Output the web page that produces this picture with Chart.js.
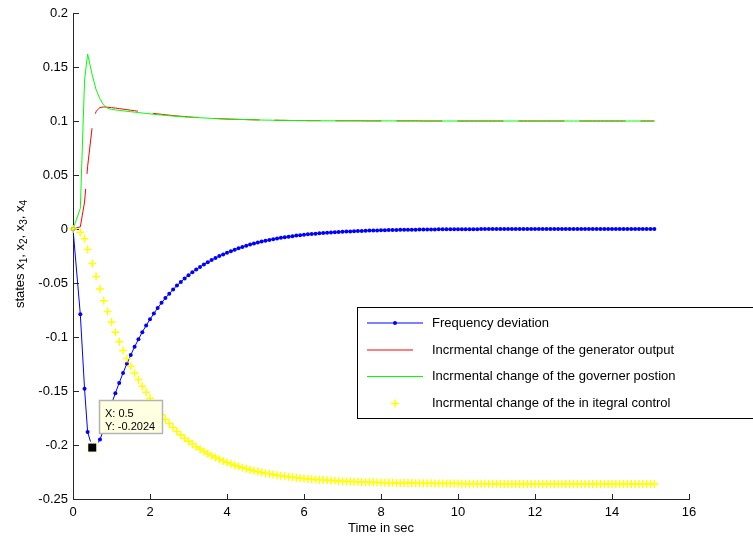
<!DOCTYPE html>
<html>
<head>
<meta charset="utf-8">
<script src="https://cdn.jsdelivr.net/npm/chart.js@4.4.0/dist/chart.umd.min.js"></script>
<style>
  html, body { margin: 0; padding: 0; background: #fff; }
  #wrap { width: 753px; height: 540px; }
</style>
</head>
<body>
<div id="wrap"><canvas id="statesChart" width="753" height="540"></canvas></div>
<script>
// simulation output, one sample per solver step
const timeSec = [
  0, 0.19, 0.3, 0.38, 0.5,
  0.6, 0.7, 0.8, 0.9, 1.0, 1.1, 1.2, 1.3, 1.4, 1.5,
  1.6, 1.7, 1.8, 1.9, 2.0, 2.1, 2.2, 2.3, 2.4, 2.5,
  2.6, 2.7, 2.8, 2.9, 3.0, 3.1, 3.2, 3.3, 3.4, 3.5,
  3.6, 3.7, 3.8, 3.9, 4.0, 4.1, 4.2, 4.3, 4.4, 4.5,
  4.6, 4.7, 4.8, 4.9, 5.0, 5.1, 5.2, 5.3, 5.4, 5.5,
  5.6, 5.7, 5.8, 5.9, 6.0, 6.1, 6.2, 6.3, 6.4, 6.5,
  6.6, 6.7, 6.8, 6.9, 7.0, 7.1, 7.2, 7.3, 7.4, 7.5,
  7.6, 7.7, 7.8, 7.9, 8.0, 8.1, 8.2, 8.3, 8.4, 8.5,
  8.6, 8.7, 8.8, 8.9, 9.0, 9.1, 9.2, 9.3, 9.4, 9.5,
  9.6, 9.7, 9.8, 9.9, 10.0, 10.1, 10.2, 10.3, 10.4, 10.5,
  10.6, 10.7, 10.8, 10.9, 11.0, 11.1, 11.2, 11.3, 11.4, 11.5,
  11.6, 11.7, 11.8, 11.9, 12.0, 12.1, 12.2, 12.3, 12.4, 12.5,
  12.6, 12.7, 12.8, 12.9, 13.0, 13.1, 13.2, 13.3, 13.4, 13.5,
  13.6, 13.7, 13.8, 13.9, 14.0, 14.1, 14.2, 14.3, 14.4, 14.5,
  14.6, 14.7, 14.8, 14.9, 15.0, 15.1
];

// x1: frequency deviation
const freqDeviation = [
  0, -0.079, -0.148, -0.188, -0.2024,
  -0.2005, -0.195, -0.1855, -0.174, -0.162, -0.152, -0.1425, -0.1333, -0.1247, -0.1167,
  -0.1091, -0.1021, -0.0955, -0.0893, -0.0836, -0.0782, -0.0731, -0.0684, -0.064, -0.0599,
  -0.056, -0.0524, -0.049, -0.0458, -0.0429, -0.0401, -0.0375, -0.0351, -0.0328, -0.0307,
  -0.0287, -0.0269, -0.0251, -0.0235, -0.022, -0.0205, -0.0191, -0.0178, -0.0166, -0.0155,
  -0.0144, -0.0134, -0.0125, -0.0116, -0.0108, -0.0101, -0.0094, -0.0088, -0.0082, -0.0076,
  -0.0071, -0.0066, -0.0061, -0.0057, -0.0053, -0.0049, -0.0046, -0.0043, -0.004, -0.0037,
  -0.0034, -0.0032, -0.003, -0.0028, -0.0026, -0.0024, -0.0022, -0.002, -0.0019, -0.0018,
  -0.0016, -0.0015, -0.0014, -0.0013, -0.0012, -0.0011, -0.001, -0.0009, -0.0009, -0.0008,
  -0.0007, -0.0007, -0.0006, -0.0006, -0.0005, -0.0005, -0.0004, -0.0004, -0.0004, -0.0003,
  -0.0003, -0.0003, -0.0003, -0.0002, -0.0002, -0.0002, -0.0002, -0.0002, -0.0002, -0.0002,
  -0.0001, -0.0001, -0.0001, -0.0001, -0.0001, -0.0001, -0.0001, -0.0001, -0.0001, -0.0001,
  -0.0001, -0.0001, -0.0001, -0.0001, -0.0001, 0, 0, 0, 0, 0,
  0, 0, 0, 0, 0, 0, 0, 0, 0, 0,
  0, 0, 0, 0, 0, 0, 0, 0, 0, 0,
  0, 0, 0, 0, 0, 0
];

// x2: generator output
const genOutput = [
  0, 0.002, 0.025, 0.058, 0.095,
  0.109, 0.1125, 0.113, 0.1128, 0.1124, 0.112, 0.1115, 0.111, 0.1105, 0.11,
  0.1095, 0.109, 0.1085, 0.108, 0.1075, 0.107, 0.1066, 0.1062, 0.1058, 0.1054,
  0.105, 0.1047, 0.1044, 0.1041, 0.1038, 0.1035, 0.1033, 0.1031, 0.1029, 0.1027,
  0.1025, 0.1023, 0.1021, 0.102, 0.1018, 0.1017, 0.1016, 0.1015, 0.1014, 0.1013,
  0.1012, 0.1011, 0.101, 0.1009, 0.1008, 0.1008, 0.1007, 0.1007, 0.1006, 0.1006,
  0.1005, 0.1005, 0.1004, 0.1004, 0.1004, 0.1003, 0.1003, 0.1003, 0.1003, 0.1002,
  0.1002, 0.1002, 0.1002, 0.1002, 0.1002, 0.1002, 0.1002, 0.1002, 0.1002, 0.1002,
  0.1001, 0.1001, 0.1001, 0.1001, 0.1001, 0.1001, 0.1001, 0.1001, 0.1001, 0.1001,
  0.1001, 0.1001, 0.1001, 0.1001, 0.1001, 0.1, 0.1, 0.1, 0.1, 0.1,
  0.1, 0.1, 0.1, 0.1, 0.1, 0.1, 0.1, 0.1, 0.1, 0.1,
  0.1, 0.1, 0.1, 0.1, 0.1, 0.1, 0.1, 0.1, 0.1, 0.1,
  0.1, 0.1, 0.1, 0.1, 0.1, 0.1, 0.1, 0.1, 0.1, 0.1,
  0.1, 0.1, 0.1, 0.1, 0.1, 0.1, 0.1, 0.1, 0.1, 0.1,
  0.1, 0.1, 0.1, 0.1, 0.1, 0.1, 0.1, 0.1, 0.1, 0.1,
  0.1, 0.1, 0.1, 0.1, 0.1, 0.1
];

// x3: governor position
const governorPos = [
  0, 0.019, 0.138, 0.162, 0.1425,
  0.129, 0.1205, 0.1145, 0.1118, 0.1108, 0.1103, 0.1098, 0.1094, 0.109, 0.1086,
  0.1082, 0.1078, 0.1074, 0.107, 0.1066, 0.1062, 0.1058, 0.1055, 0.1052, 0.1049,
  0.1046, 0.1043, 0.104, 0.1038, 0.1036, 0.1034, 0.1032, 0.103, 0.1028, 0.1026,
  0.1024, 0.1022, 0.1021, 0.1019, 0.1018, 0.1017, 0.1016, 0.1015, 0.1014, 0.1013,
  0.1012, 0.1011, 0.101, 0.1009, 0.1008, 0.1008, 0.1007, 0.1007, 0.1006, 0.1006,
  0.1005, 0.1005, 0.1004, 0.1004, 0.1004, 0.1003, 0.1003, 0.1003, 0.1003, 0.1002,
  0.1002, 0.1002, 0.1002, 0.1002, 0.1002, 0.1002, 0.1002, 0.1002, 0.1002, 0.1002,
  0.1001, 0.1001, 0.1001, 0.1001, 0.1001, 0.1001, 0.1001, 0.1001, 0.1001, 0.1001,
  0.1001, 0.1001, 0.1001, 0.1001, 0.1001, 0.1, 0.1, 0.1, 0.1, 0.1,
  0.1, 0.1, 0.1, 0.1, 0.1, 0.1, 0.1, 0.1, 0.1, 0.1,
  0.1, 0.1, 0.1, 0.1, 0.1, 0.1, 0.1, 0.1, 0.1, 0.1,
  0.1, 0.1, 0.1, 0.1, 0.1, 0.1, 0.1, 0.1, 0.1, 0.1,
  0.1, 0.1, 0.1, 0.1, 0.1, 0.1, 0.1, 0.1, 0.1, 0.1,
  0.1, 0.1, 0.1, 0.1, 0.1, 0.1, 0.1, 0.1, 0.1, 0.1,
  0.1, 0.1, 0.1, 0.1, 0.1, 0.1
];

// x4: integral control
const integralCtrl = [
  0, -0.003, -0.009, -0.019, -0.032,
  -0.044, -0.0555, -0.0665, -0.0765, -0.0862, -0.0955, -0.1043, -0.1125, -0.12, -0.127,
  -0.1335, -0.1395, -0.1455, -0.1512, -0.1566, -0.1618, -0.1668, -0.1719, -0.1762, -0.1802,
  -0.1839, -0.1874, -0.1906, -0.1937, -0.1965, -0.1991, -0.2016, -0.2039, -0.206, -0.208,
  -0.2099, -0.2116, -0.2133, -0.2148, -0.2162, -0.2175, -0.2188, -0.2199, -0.221, -0.222,
  -0.2229, -0.2238, -0.2246, -0.2254, -0.2261, -0.2267, -0.2274, -0.2279, -0.2285, -0.229,
  -0.2295, -0.2299, -0.2303, -0.2307, -0.231, -0.2314, -0.2317, -0.232, -0.2322, -0.2325,
  -0.2327, -0.2329, -0.2331, -0.2333, -0.2335, -0.2337, -0.2338, -0.234, -0.2341, -0.2342,
  -0.2344, -0.2345, -0.2346, -0.2347, -0.2348, -0.2349, -0.235, -0.235, -0.2351, -0.2352,
  -0.2352, -0.2353, -0.2353, -0.2354, -0.2354, -0.2355, -0.2355, -0.2355, -0.2356, -0.2356,
  -0.2356, -0.2357, -0.2357, -0.2357, -0.2357, -0.2358, -0.2358, -0.2358, -0.2358, -0.2358,
  -0.2359, -0.2359, -0.2359, -0.2359, -0.2359, -0.236, -0.236, -0.236, -0.236, -0.236,
  -0.236, -0.236, -0.236, -0.236, -0.236, -0.2361, -0.2361, -0.2361, -0.2361, -0.2361,
  -0.2361, -0.2361, -0.2361, -0.2361, -0.2361, -0.2361, -0.2361, -0.2361, -0.2361, -0.2361,
  -0.2362, -0.2362, -0.2362, -0.2362, -0.2362, -0.2362, -0.2362, -0.2362, -0.2362, -0.2362,
  -0.2362, -0.2362, -0.2362, -0.2362, -0.2362, -0.2362
];

const seriesNames = [
  'Frequency deviation',
  'Incrmental change of the generator output',
  'Incrmental change of the governer postion',
  'Incrmental change of the in itegral control'
];

const xTicks = [0, 2, 4, 6, 8, 10, 12, 14, 16];
const yTicks = [-0.25, -0.2, -0.15, -0.1, -0.05, 0, 0.05, 0.1, 0.15, 0.2];

const xTitle = 'Time in sec';
const yTitle = 'states x_1, x_2, x_3, x_4';

// data cursor sits on the frequency deviation dip
const tipIndex = timeSec.indexOf(0.5);

const FONT = "'Liberation Sans', Arial, Helvetica, sans-serif";
const AXIS_COLOR = '#262626';

function pairs(values) {
  return timeSec.map((t, i) => ({ x: t, y: values[i] }));
}

const datasets = [
  {
    label: seriesNames[0],
    data: pairs(freqDeviation),
    borderColor: '#0000ff',
    backgroundColor: '#0000ff',
    borderWidth: 1,
    pointRadius: 2,
    pointBorderWidth: 0,
    pointBackgroundColor: '#0000ff',
    order: 3
  },
  {
    label: seriesNames[1],
    data: pairs(genOutput),
    borderColor: '#ff0000',
    borderWidth: 1,
    borderDash: [46, 15],
    pointRadius: 0,
    order: 2
  },
  {
    label: seriesNames[2],
    data: pairs(governorPos),
    borderColor: '#00ff00',
    borderWidth: 1,
    pointRadius: 0,
    order: 1
  },
  {
    label: seriesNames[3],
    data: pairs(integralCtrl),
    showLine: false,
    pointStyle: 'cross',
    pointRadius: 4,
    pointBorderWidth: 1.5,
    pointBorderColor: '#ffff00',
    borderColor: '#ffff00',
    order: 0
  }
];

// draws a string where "_d" means a subscript digit
function drawSubscripted(ctx, text, size) {
  const parts = [];
  text.split(/(_\d)/).forEach(p => {
    if (!p) return;
    if (p[0] === '_') parts.push({ s: p.slice(1), sub: true });
    else parts.push({ s: p, sub: false });
  });
  const subSize = Math.round(size * 0.77);
  let total = 0;
  parts.forEach(p => {
    ctx.font = (p.sub ? subSize : size) + 'px ' + FONT;
    p.w = ctx.measureText(p.s).width;
    total += p.w;
  });
  let x = -total / 2;
  parts.forEach(p => {
    ctx.font = (p.sub ? subSize : size) + 'px ' + FONT;
    ctx.fillText(p.s, x, p.sub ? 3 : 0);
    x += p.w;
  });
}

const matlabLook = {
  id: 'matlabLook',
  beforeDatasetsDraw(chart) {
    const { ctx, chartArea: a, scales: { x, y } } = chart;
    ctx.save();
    ctx.strokeStyle = AXIS_COLOR;
    ctx.lineWidth = 1;
    ctx.beginPath();
    ctx.moveTo(a.left + 0.5, a.top);
    ctx.lineTo(a.left + 0.5, a.bottom + 1);
    ctx.moveTo(a.left, a.bottom + 0.5);
    ctx.lineTo(a.right + 1, a.bottom + 0.5);
    // tick marks point into the plot
    yTicks.forEach(v => {
      const py = Math.round(y.getPixelForValue(v)) + 0.5;
      ctx.moveTo(a.left, py);
      ctx.lineTo(a.left + 6, py);
    });
    xTicks.forEach(v => {
      const px = Math.round(x.getPixelForValue(v)) + 0.5;
      ctx.moveTo(px, a.bottom + 1);
      ctx.lineTo(px, a.bottom - 5);
    });
    ctx.stroke();
    ctx.restore();
  },
  afterDraw(chart) {
    const { ctx, scales: { x, y } } = chart;

    // y axis label
    ctx.save();
    ctx.fillStyle = '#000';
    ctx.textBaseline = 'alphabetic';
    ctx.translate(24, (chart.chartArea.top + chart.chartArea.bottom) / 2 - 2);
    ctx.rotate(-Math.PI / 2);
    drawSubscripted(ctx, yTitle, 13);
    ctx.restore();

    // legend box
    ctx.save();
    const lx = 357.5, ly = 307.5;
    ctx.fillStyle = '#fff';
    ctx.fillRect(lx, ly, 400, 111);
    ctx.strokeStyle = '#000';
    ctx.lineWidth = 1;
    ctx.strokeRect(lx, ly, 400, 111);
    const rowY = [323, 350, 376.5, 403.5];
    datasets.forEach((ds, i) => {
      const ry = rowY[i];
      if (ds.showLine !== false) {
        ctx.save();
        ctx.strokeStyle = ds.borderColor;
        ctx.setLineDash(ds.borderDash || []);
        ctx.beginPath();
        ctx.moveTo(367, ry);
        ctx.lineTo(423, ry);
        ctx.stroke();
        ctx.restore();
      }
      if (ds.pointStyle === 'cross') {
        ctx.strokeStyle = ds.pointBorderColor;
        ctx.lineWidth = ds.pointBorderWidth;
        ctx.beginPath();
        ctx.moveTo(391, ry);
        ctx.lineTo(399, ry);
        ctx.moveTo(395, ry - 4);
        ctx.lineTo(395, ry + 4);
        ctx.stroke();
        ctx.lineWidth = 1;
      } else if (ds.pointRadius > 0) {
        ctx.fillStyle = ds.pointBackgroundColor;
        ctx.beginPath();
        ctx.arc(395, ry, ds.pointRadius, 0, Math.PI * 2);
        ctx.fill();
      }
      ctx.fillStyle = '#000';
      ctx.font = '13px ' + FONT;
      ctx.textBaseline = 'middle';
      ctx.fillText(ds.label, 432, ry);
    });
    ctx.restore();

    // data cursor
    const tx = timeSec[tipIndex], tv = freqDeviation[tipIndex];
    const mx = x.getPixelForValue(tx), my = y.getPixelForValue(tv);
    ctx.save();
    ctx.fillStyle = '#ffffe1';
    ctx.fillRect(mx - 6, my - 6, 12, 12);
    ctx.fillStyle = '#000';
    ctx.fillRect(mx - 4, my - 4, 8, 8);
    const bx = Math.round(mx + 7) + 0.5, by = Math.round(my - 48) + 0.5;
    ctx.fillStyle = '#ffffe1';
    ctx.fillRect(bx, by, 63, 33);
    ctx.strokeStyle = '#b4b4b4';
    ctx.strokeRect(bx, by, 63, 33);
    ctx.fillStyle = '#000';
    ctx.font = '11px ' + FONT;
    ctx.textBaseline = 'alphabetic';
    ctx.fillText('X: ' + tx, bx + 5.5, by + 16.5);
    ctx.fillText('Y: ' + tv, bx + 5.5, by + 29.5);
    ctx.restore();
  }
};

const ctx = document.getElementById('statesChart').getContext('2d');
const statesChart = new Chart(ctx, {
  type: 'line',
  data: { datasets: datasets },
  options: {
    responsive: false,
    animation: false,
    events: [],
    devicePixelRatio: 1,
    layout: { padding: { top: 13, right: 64, left: 0, bottom: 0 } },
    elements: { line: { tension: 0 } },
    datasets: { line: { clip: false } },
    plugins: {
      legend: { display: false },
      tooltip: { enabled: false }
    },
    scales: {
      x: {
        type: 'linear',
        min: 0,
        max: 16,
        afterBuildTicks: s => { s.ticks = xTicks.map(v => ({ value: v })); },
        afterFit: s => { s.height = 41; },
        grid: { display: false, drawTicks: false },
        border: { display: false },
        ticks: {
          color: '#000',
          padding: 6,
          maxRotation: 0,
          font: { family: FONT, size: 13 },
          callback: v => String(v)
        },
        title: {
          display: true,
          text: xTitle,
          color: '#000',
          font: { family: FONT, size: 13 },
          padding: { top: 0, bottom: 4 }
        }
      },
      y: {
        type: 'linear',
        min: -0.25,
        max: 0.2,
        afterBuildTicks: s => { s.ticks = yTicks.map(v => ({ value: v })); },
        afterFit: s => { s.width = 73; },
        grid: { display: false, drawTicks: false },
        border: { display: false },
        ticks: {
          color: '#000',
          padding: 5,
          font: { family: FONT, size: 13 },
          callback: v => String(v)
        }
      }
    }
  },
  plugins: [matlabLook]
});
</script>
</body>
</html>
